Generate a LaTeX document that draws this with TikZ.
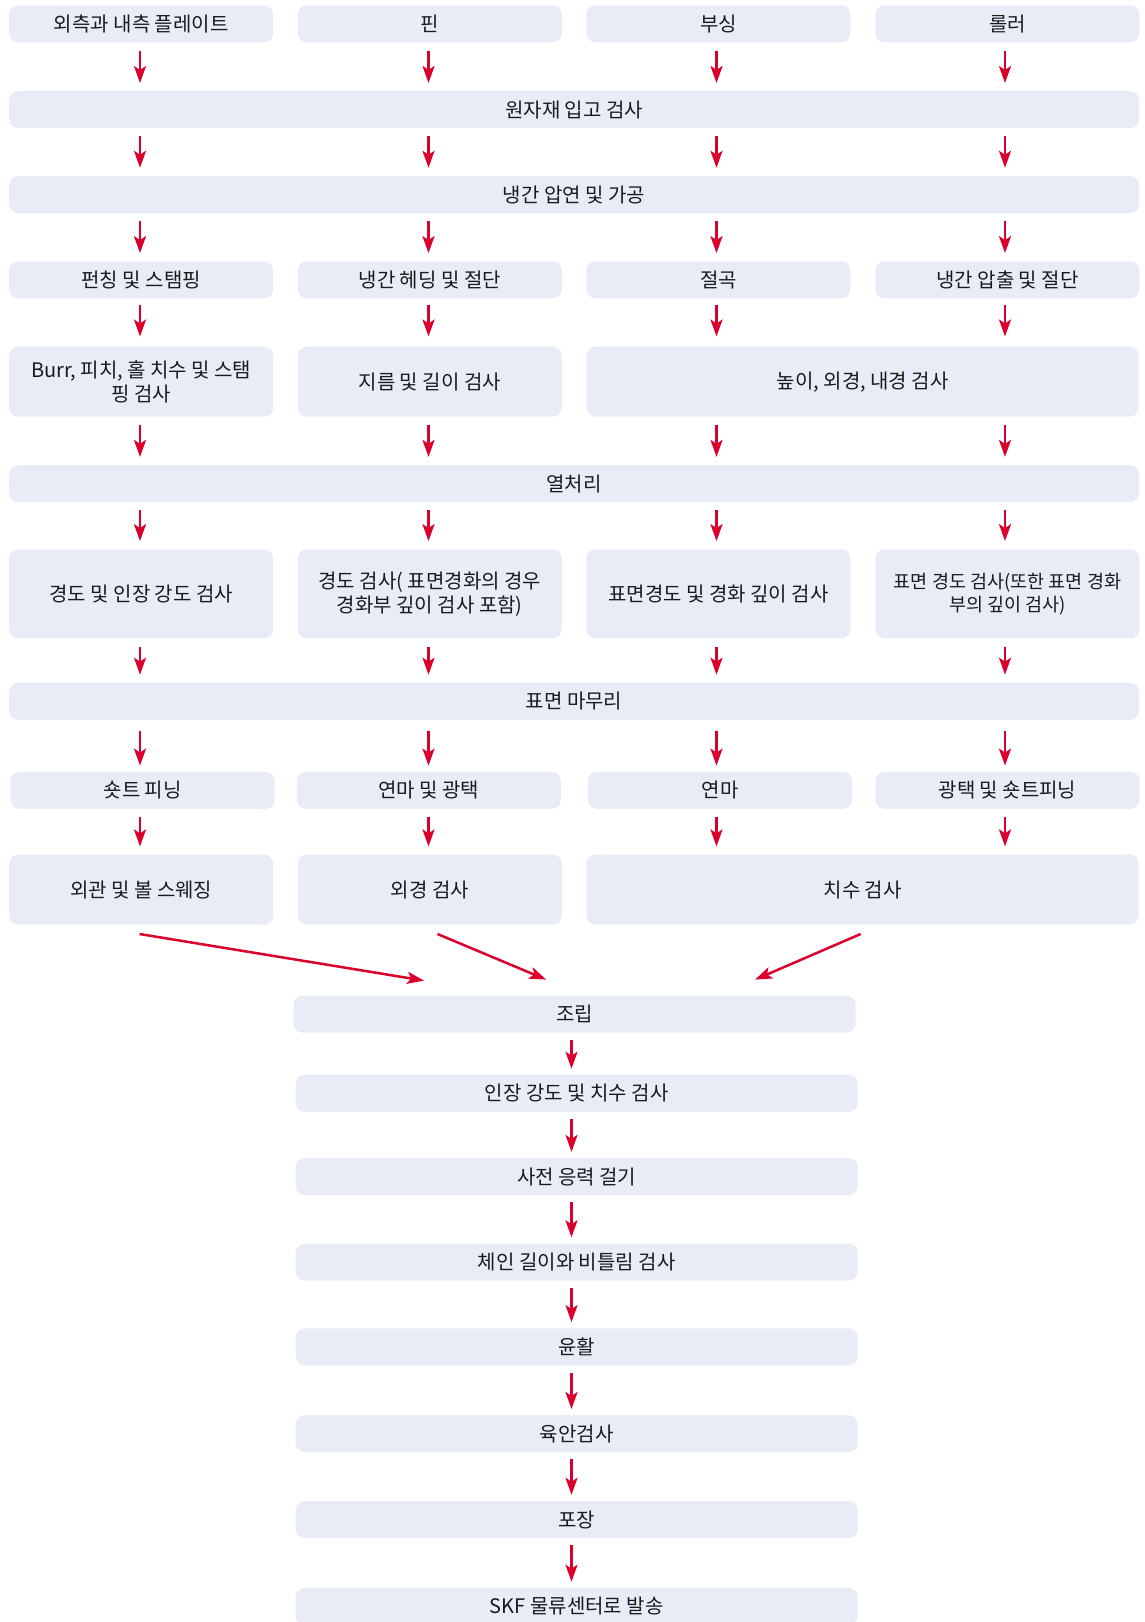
\documentclass[tikz,border=0pt]{standalone}
\usepackage{fontspec}
\setmainfont{Noto Sans CJK KR}
\usetikzlibrary{arrows.meta,positioning}
\definecolor{boxbg}{RGB}{232,236,247}
\definecolor{skfred}{RGB}{218,0,43}
\definecolor{ink}{RGB}{26,26,26}

\begin{document}
\begin{tikzpicture}[x=1pt,y=-1pt,
	box/.style={rounded corners=9pt,fill=boxbg,text=ink,align=center,inner sep=0pt,
		minimum height=37pt,font=\fontsize{20}{24}\selectfont},
	colbox/.style={box,minimum width=264pt},
	widebox/.style={box,minimum width=1130pt},
	halfbox/.style={box,minimum width=552pt},
	lowbox/.style={box,minimum width=562pt},
	arr/.style={draw=skfred,line width=2.5pt,-{Stealth[length=17pt,width=12pt,inset=4pt]},
		shorten <=8pt,shorten >=8pt}]

	\useasboundingbox (0,0) rectangle (1144,1622);

	\coordinate (c1) at (140,0);
	\coordinate (c2) at (428.5,0);
	\coordinate (c3) at (716.5,0);
	\coordinate (c4) at (1005,0);
	\coordinate (c5) at (571.5,0);

	\node[colbox] (plate) at (141.2,23.8) {외측과 내측 플레이트};
	\node[colbox] (pin) at (429.8,23.8) {핀};
	\node[colbox] (bush) at (718.4,23.8) {부싱};
	\node[colbox] (roller) at (1007.5,23.8) {롤러};

	\node[widebox] (incoming) at (574.1,109.7) {원자재 입고 검사};
	\node[widebox] (rolling) at (574.1,194.5) {냉간 압연 및 가공};

	\node[colbox] (punch) at (141.2,279.8) {펀칭 및 스탬핑};
	\node[colbox] (heading) at (429.8,279.8) {냉간 헤딩 및 절단};
	\node[colbox] (cutting) at (718.4,279.8) {절곡};
	\node[colbox] (extrude) at (1007.5,279.8) {냉간 압출 및 절단};

	\node[colbox,minimum height=70pt] (chkplate) at (141.2,381.7) {Burr, 피치, 홀 치수 및 스탬\\핑 검사};
	\node[colbox,minimum height=70pt] (chkpin) at (429.8,381.7) {지름 및 길이 검사};
	\node[halfbox,minimum height=70pt] (chkbush) at (862.7,381.7) {높이, 외경, 내경 검사};

	\node[widebox] (heat) at (574.1,483.6) {열처리};

	\node[colbox,minimum height=89pt] (hardplate) at (141.2,593.8) {경도 및 인장 강도 검사};
	\node[colbox,minimum height=89pt] (hardpin) at (429.8,593.8) {경도 검사( 표면경화의 경우\\경화부 깊이 검사 포함)};
	\node[colbox,minimum height=89pt] (hardbush) at (718.4,593.8) {표면경도 및 경화 깊이 검사};
	\node[colbox,minimum height=89pt,font=\fontsize{18.5}{23}\selectfont] (hardroller) at (1007.5,593.8) {표면 경도 검사(또한 표면 경화\\부의 깊이 검사)};

	\node[widebox] (finish) at (574.1,701.4) {표면 마무리};

	\node[colbox] (peen) at (142.7,790.3) {숏트 피닝};
	\node[colbox] (polpin) at (428.8,790.3) {연마 및 광택};
	\node[colbox] (polbush) at (720,790.3) {연마};
	\node[colbox] (polroller) at (1007.5,790.3) {광택 및 숏트피닝};

	\node[colbox,minimum height=70pt] (lookplate) at (141.2,889.6) {외관 및 볼 스웨징};
	\node[colbox,minimum height=70pt] (diapin) at (429.8,889.6) {외경 검사};
	\node[halfbox,minimum height=70pt] (dimbush) at (862.7,889.6) {치수 검사};

	\node[lowbox] (assembly) at (574.6,1014.2) {조립};
	\node[lowbox] (tensile) at (576.7,1093.4) {인장 강도 및 치수 검사};
	\node[lowbox] (preload) at (576.7,1176.6) {사전 응력 걸기};
	\node[lowbox] (lengthchk) at (576.7,1262) {체인 길이와 비틀림 검사};
	\node[lowbox] (lube) at (576.7,1346.8) {윤활};
	\node[lowbox] (visual) at (576.7,1433.7) {육안검사};
	\node[lowbox] (pack) at (576.7,1519.5) {포장};
	\node[lowbox] (ship) at (576.7,1606.4) {SKF 물류센터로 발송};

	\coordinate (s1) at (139.6,934);
	\coordinate (s2) at (437.5,934);
	\coordinate (s3) at (860.6,934);
	\coordinate (m1) at (424.1,980.6);
	\coordinate (m2) at (546.2,979.6);
	\coordinate (m3) at (755.1,979.6);

	\foreach \c in {c1,c2,c3,c4}
		\draw[arr] (plate.south -| \c) -- (incoming.north -| \c);
	\foreach \c in {c1,c2,c3,c4}
		\draw[arr] (incoming.south -| \c) -- (rolling.north -| \c);
	\foreach \c in {c1,c2,c3,c4}
		\draw[arr] (rolling.south -| \c) -- (punch.north -| \c);
	\foreach \c in {c1,c2,c3,c4}
		\draw[arr,shorten <=6pt,shorten >=10pt] (punch.south -| \c) -- (chkplate.north -| \c);
	\foreach \c in {c1,c2,c3,c4}
		\draw[arr] (chkplate.south -| \c) -- (heat.north -| \c);
	\foreach \c in {c1,c2,c3,c4}
		\draw[arr] (heat.south -| \c) -- (hardplate.north -| \c);
	\foreach \c in {c1,c2,c3,c4}
		\draw[arr] (hardplate.south -| \c) -- (finish.north -| \c);
	\foreach \c in {c1,c2,c3,c4}
		\draw[arr,shorten <=11pt,shorten >=6pt] (finish.south -| \c) -- (peen.north -| \c);
	\foreach \c in {c1,c2,c3,c4}
		\draw[arr] (peen.south -| \c) -- (lookplate.north -| \c);

	\draw[arr,shorten <=0pt,shorten >=0pt] (s1) -- (m1);
	\draw[arr,shorten <=0pt,shorten >=0pt] (s2) -- (m2);
	\draw[arr,shorten <=0pt,shorten >=0pt] (s3) -- (m3);

	\foreach \a/\b in {assembly/tensile,tensile/preload,preload/lengthchk,lengthchk/lube,lube/visual,visual/pack,pack/ship}
		\draw[arr,shorten <=7pt,shorten >=6pt] (\a.south -| c5) -- (\b.north -| c5);
\end{tikzpicture}
\end{document}
